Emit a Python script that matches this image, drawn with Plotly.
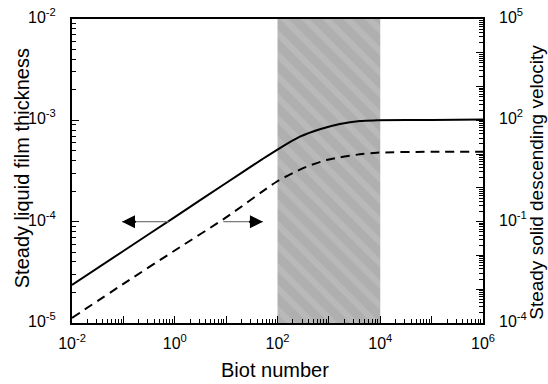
import plotly.graph_objects as go

# Data
biot_film = [1e-2, 1e-1, 1e0, 1e1, 5e1, 1e2, 2.73e2, 6.68e2, 1.637e3, 4.009e3, 8.51e3, 1e5, 1e6]
film_thickness = [2.37e-5, 5.14e-5, 1.11e-4, 2.41e-4, 4.12e-4, 5.15e-4, 6.9e-4, 8.17e-4, 9.21e-4, 9.86e-4, 1.0e-3, 1.01e-3, 1.02e-3]
biot_vel = [1e-2, 1e-1, 1e0, 1e1, 9.6e1, 1.99e2, 3.68e2, 9.01e2, 1.637e3, 4.009e3, 8.51e3, 1e5, 1e6]
descend_velocity = [1.41e-4, 1.44e-3, 1.40e-2, 0.134, 1.52, 2.75, 4.24, 6.68, 8.04, 9.86, 11.0, 11.7, 11.7]
shade_bi = [1e2, 1e4]
left_range = [1e-5, 1e-2]

x_exponents = list(range(-2, 7))
x_labelled = [-2, 0, 2, 4, 6]
y1_exponents = list(range(-5, -1))
y2_exponents = list(range(-4, 6))
y2_labelled = [-4, -1, 2, 5]


def minors(lo, hi):
    return [m * 10.0 ** k for k in range(lo, hi) for m in range(2, 10)]


font = "Liberation Sans, Arial, sans-serif"
tick_font = dict(family=font, size=16, color="black")
fig = go.Figure()

fig.add_trace(go.Scatter(
    x=[shade_bi[0], shade_bi[0], shade_bi[1], shade_bi[1], shade_bi[0]],
    y=[left_range[0], left_range[1], left_range[1], left_range[0], left_range[0]],
    fill="toself", mode="none", fillcolor="#afafaf",
    fillpattern=dict(shape="\\", bgcolor="#afafaf", fgcolor="#c4c4c4", size=15, solidity=0.4, fillmode="overlay"),
    showlegend=False, hoverinfo="skip"))

fig.add_trace(go.Scatter(x=biot_film, y=film_thickness, mode="lines",
                         line=dict(color="black", width=2, shape="spline", smoothing=0.8), showlegend=False))
fig.add_trace(go.Scatter(x=biot_vel, y=descend_velocity, mode="lines", yaxis="y2",
                         line=dict(color="black", width=2, dash="9px,6px", shape="spline", smoothing=0.8),
                         showlegend=False))

axis_common = dict(type="log", showgrid=False, zeroline=False, showline=True, linecolor="black",
                   linewidth=1.5, ticks="inside", tickcolor="black", ticklen=7, tickfont=tick_font)

fig.update_layout(
    width=548, height=384, margin=dict(l=72, r=65, t=19, b=61),
    paper_bgcolor="white", plot_bgcolor="white",
    xaxis=dict(axis_common, range=[-2, 6], tickmode="array",
               tickvals=[10.0 ** k for k in x_exponents],
               ticktext=["10<sup>%d</sup>" % k if k in x_labelled else "" for k in x_exponents],
               mirror=True, ticklabelstandoff=5,
               minor=dict(tickmode="array", tickvals=minors(-2, 6), ticks="inside", ticklen=4, tickcolor="black")),
    yaxis=dict(axis_common, range=[-5, -2], tickmode="array", tickvals=[10.0 ** k for k in y1_exponents],
               showticklabels=False,
               minor=dict(tickmode="array", tickvals=minors(-5, -2), ticks="inside", ticklen=4, tickcolor="black")),
    yaxis2=dict(axis_common, range=[-4, 5], overlaying="y", side="right", tickmode="array",
                tickvals=[10.0 ** k for k in y2_exponents], showticklabels=False,
                minor=dict(tickmode="array", tickvals=minors(-4, 5), ticks="inside", ticklen=4, tickcolor="black")),
)

# y tick labels placed on each axis' own scale
for k in y1_exponents:
    fig.add_annotation(text="10<sup>%d</sup>" % k, xref="paper", yref="y", x=-0.034, y=k,
                       xanchor="right", yanchor="middle", yshift=3, showarrow=False, font=tick_font)
for k in y2_labelled:
    fig.add_annotation(text="10<sup>%d</sup>" % k, xref="paper", yref="y2", x=1.034, y=k,
                       xanchor="left", yanchor="middle", yshift=3, showarrow=False, font=tick_font)

title_font = dict(family=font, size=20, color="black")
fig.add_annotation(text="Biot number", xref="paper", yref="paper", x=0.495, y=-0.155,
                   xanchor="center", yanchor="middle", showarrow=False, font=title_font)
fig.add_annotation(text="Steady liquid film thickness", xref="paper", yref="paper", x=-0.121, y=0.51,
                   xanchor="center", yanchor="middle", textangle=-90, showarrow=False, font=title_font)
fig.add_annotation(text="Steady solid descending velocity", xref="paper", yref="paper", x=1.131, y=0.464,
                   xanchor="center", yanchor="middle", textangle=-90, showarrow=False,
                   font=dict(family=font, size=19, color="black"))

# arrows indicating which axis each curve belongs to (at film thickness 1e-4)
arrow_y = -4
for tail, head in [(-0.093, -1.027), (0.918, 1.716)]:
    fig.add_annotation(x=head, y=arrow_y, ax=tail, ay=arrow_y, xref="x", yref="y", axref="x", ayref="y",
                       showarrow=True, arrowhead=0, arrowwidth=1.3, arrowcolor="#7a7a7a", text="")
    d = 0.3 if tail > head else -0.3
    fig.add_annotation(x=head, y=arrow_y, ax=head + d, ay=arrow_y, xref="x", yref="y", axref="x", ayref="y",
                       showarrow=True, arrowhead=2, arrowsize=1.3, arrowwidth=2, arrowcolor="black", text="")

fig.write_html("out.html")
